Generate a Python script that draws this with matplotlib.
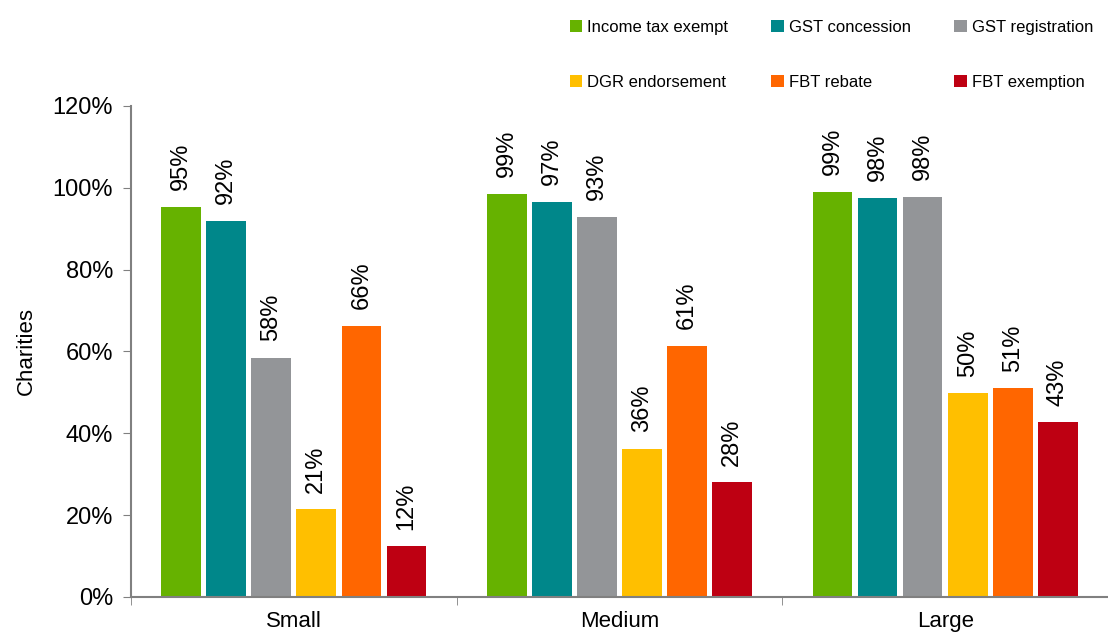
import numpy as np
import matplotlib
matplotlib.use('Agg')
from matplotlib import pyplot as plt
from matplotlib.ticker import FuncFormatter

plt.rcParams['font.family'] = ['Liberation Sans', 'DejaVu Sans']

categories = ['Small', 'Medium', 'Large']
series = ['Income tax exempt', 'GST concession', 'GST registration',
          'DGR endorsement', 'FBT rebate', 'FBT exemption']
income_tax = [95.3, 98.6, 99.0]
gst_concession = [91.9, 96.6, 97.6]
gst_registration = [58.4, 92.9, 97.8]
dgr = [21.4, 36.2, 49.8]
fbt_rebate = [66.2, 61.4, 51.0]
fbt_exemption = [12.4, 28.0, 42.7]
colors = ['#66B200', '#00878A', '#939598', '#FFBF00', '#FF6600', '#BE0012']

values = [income_tax, gst_concession, gst_registration, dgr, fbt_rebate, fbt_exemption]

fig = plt.figure(figsize=(11.08, 6.32), dpi=100)
ax = fig.add_axes([0.1182, 0.0554, 0.8818, 0.7769])

x = np.arange(len(categories))
step = 0.1385
width = 0.122
handles = []
for i, (name, vals, c) in enumerate(zip(series, values, colors)):
    pos = x + (i - 2.5) * step
    bars = ax.bar(pos, vals, width, color=c, label=name)
    handles.append(bars)
    for b, v in zip(bars, vals):
        ax.annotate('%d%%' % round(v), (b.get_x() + b.get_width() / 2, v),
                    xytext=(0, 12), textcoords='offset points',
                    rotation=90, ha='center', va='bottom', fontsize=17)

ax.set_xlim(-0.5, 2.5)
ax.set_ylim(0, 120)
ax.set_yticks(np.arange(0, 121, 20))
ax.yaxis.set_major_formatter(FuncFormatter(lambda v, p: '%d%%' % v))
ax.set_xticks(x)
ax.set_xticklabels(categories, fontsize=16)
ax.set_xticks([-0.5, 0.5, 1.5, 2.5], minor=True)
ax.tick_params(axis='x', which='major', length=0, pad=10)
ax.tick_params(axis='x', which='minor', length=6, color='#808080', direction='out')
ax.tick_params(axis='y', length=6, color='#808080', labelsize=17, pad=7)
ax.set_ylabel('Charities', fontsize=16, labelpad=11)

for s in ['top', 'right']:
    ax.spines[s].set_visible(False)
for s in ['left', 'bottom']:
    ax.spines[s].set_color('#808080')
    ax.spines[s].set_linewidth(1.5)

# legend is filled column by column, so reorder to get rows of three
order = [0, 3, 1, 4, 2, 5]
fig.legend([handles[k] for k in order], [series[k] for k in order],
           loc='upper left', bbox_to_anchor=(0.502, 0.99), ncol=3, frameon=False,
           fontsize=12, handlelength=0.75, handleheight=0.75, handletextpad=0.3,
           labelspacing=2.4, columnspacing=2.6, borderaxespad=0.4)

plt.savefig('out.png', dpi=100)
